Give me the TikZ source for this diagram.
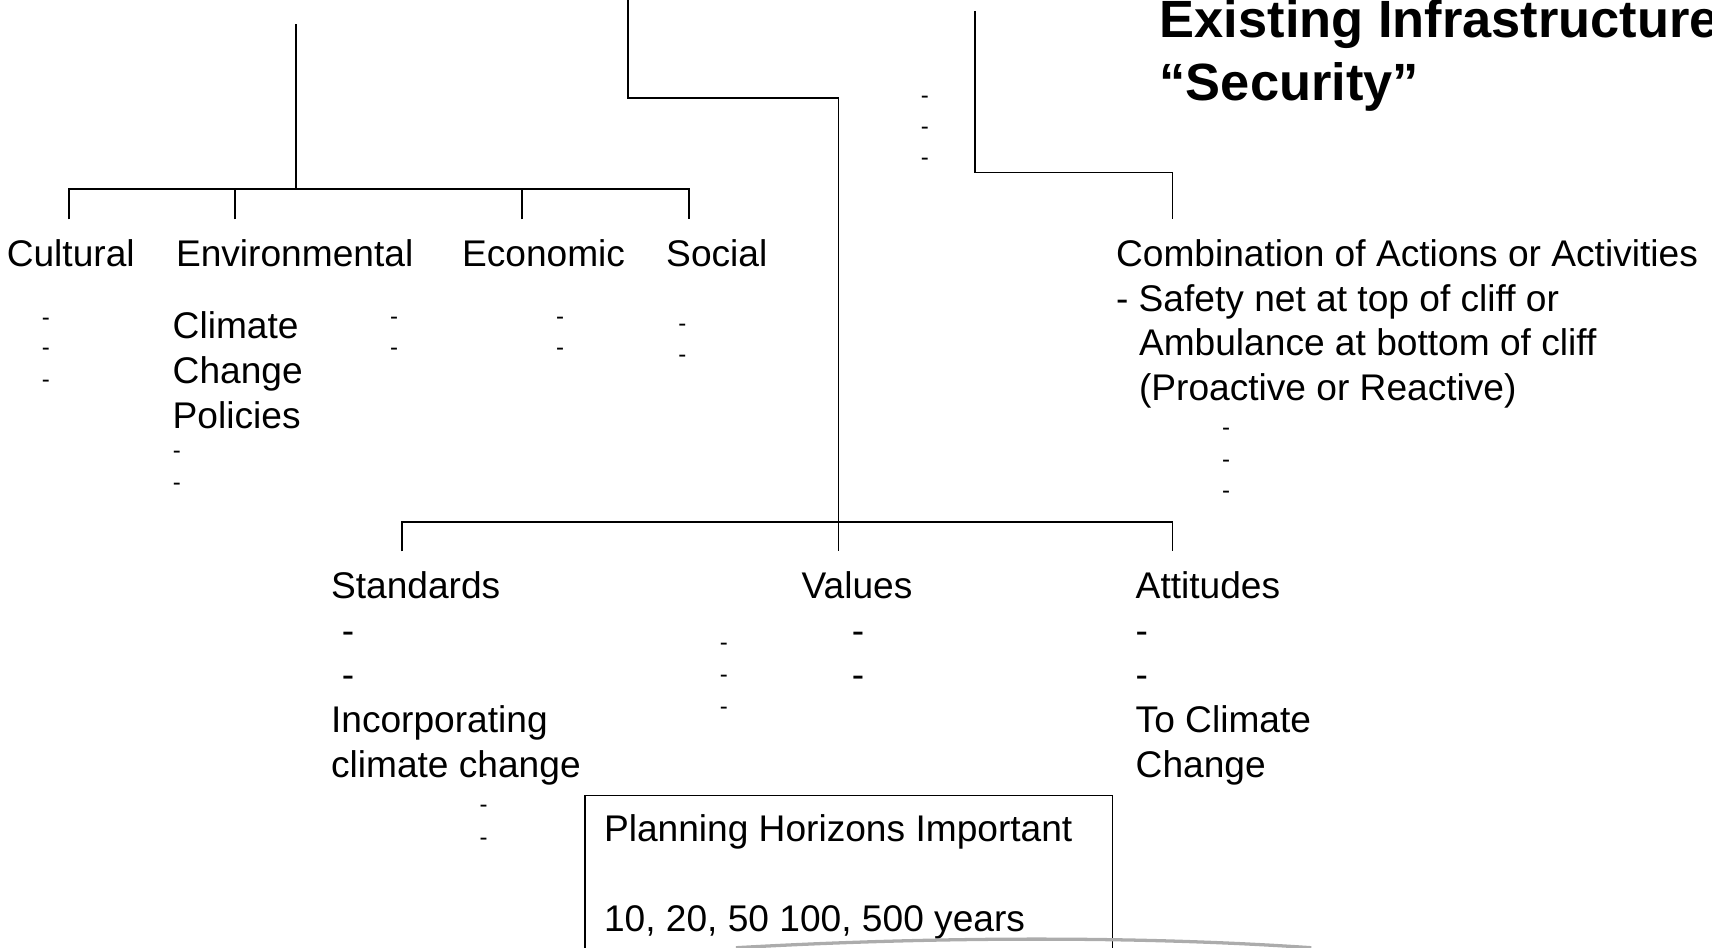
\documentclass[tikz,border=0pt]{standalone}
\usepackage{fontspec}
\setmainfont{Liberation Sans}
\tikzset{txt/.style={anchor=base west,inner sep=0pt,font=\fontsize{34}{41}\selectfont},ttl/.style={txt,font=\fontsize{48}{58}\selectfont\bfseries},tick/.style={anchor=base,inner sep=0pt,font=\fontsize{22}{26}\selectfont},link/.style={line width=1.5pt},frame/.style={draw,line width=1.3pt,anchor=north west,inner sep=0pt,minimum width=483pt,minimum height=200pt}}
\begin{document}
\begin{tikzpicture}[x=1pt,y=-1pt]
\useasboundingbox (0,0) rectangle (1568,868);\clip (0,0) rectangle (1568,868);
% branch points
\coordinate (topA) at (271,22);\coordinate (hubA) at (271,173);\coordinate (cu) at (63,201);\coordinate (en) at (215,201);\coordinate (ec) at (478,201);\coordinate (so) at (631,201);
\coordinate (topB) at (575,0);\coordinate (kneeB) at (768,90);\coordinate (hubB) at (768,478);\coordinate (st) at (368,505);\coordinate (va) at (768,505);\coordinate (at) at (1074,505);
\coordinate (topC) at (893,10);\coordinate (kneeC) at (1074,158);\coordinate (co) at (1074,201);
% title
\node[ttl] (exist) at (1062,34) {Existing Infrastructure};\node[ttl] (secur) at (1062,92) {``Security''};
% first row
\node[txt] (cultural) at (6,244) {Cultural};\node[txt] (environmental) at (161,244) {Environmental};\node[txt] (economic) at (423,244) {Economic};\node[txt] (social) at (610,244) {Social};
\node[txt] (clim1) at (158,310) {Climate};\node[txt] (clim2) at (158,351) {Change};\node[txt] (clim3) at (158,392) {Policies};
\node[txt] (comb1) at (1022,244) {Combination of Actions or Activities};\node[txt] (comb2) at (1022,285) {- Safety net at top of cliff or};\node[txt] (comb3) at (1043,326) {Ambulance at bottom of cliff};\node[txt] (comb4) at (1043,367) {(Proactive or Reactive)};
% second row
\node[txt] (standards) at (303,548) {Standards};\node[txt] (stA) at (313,589) {-};\node[txt] (stB) at (313,630) {-};\node[txt] (stC) at (303,671) {Incorporating};\node[txt] (stD) at (303,712) {climate change};
\node[txt] (values) at (734,548) {Values};\node[txt] (vaA) at (780,589) {-};\node[txt] (vaB) at (780,630) {-};
\node[txt] (attitudes) at (1040,548) {Attitudes};\node[txt] (atA) at (1040,589) {-};\node[txt] (atB) at (1040,630) {-};\node[txt] (atC) at (1040,671) {To Climate};\node[txt] (atD) at (1040,712) {Change};
% small dashes
\foreach \x/\y [count=\i] in {42/292,42/320,42/349,361/291,361/320,513/291,513/320,625/298,625/326,162/414,162/443,847/89,847/117,847/146,1123/393,1123/422,1123/451,663/590,663/619,663/648,443/710,443/738,443/768} \node[tick] (tick\i) at (\x,\y+6) {-};
% horizons box
\node[frame] (horizons) at (535,728) {};\node[txt] (plan1) at (553,771) {Planning Horizons Important};\node[txt] (plan2) at (553,853) {10, 20, 50 100, 500 years};
\draw[gray!65,line width=3pt] (674,868) .. controls (850,858) and (1040,857) .. (1201,868);
% connectors
\draw[link] (topA) -- (hubA);\draw[link] (cu) |- (hubA) -| (so);\draw[link] (en) -- (en |- hubA);\draw[link] (ec) -- (ec |- hubA);
\draw[link] (topB) |- (kneeB) -- (va);\draw[link] (st) |- (hubB) -| (at);
\draw[link] (topC) |- (kneeC) -- (co);
\end{tikzpicture}
\end{document}
